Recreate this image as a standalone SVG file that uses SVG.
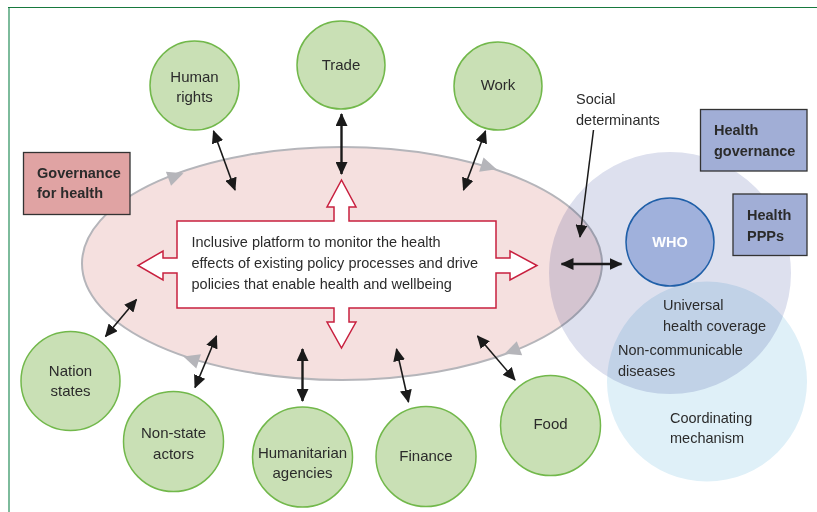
<svg xmlns="http://www.w3.org/2000/svg" width="817" height="512" viewBox="0 0 817 512">
<style>
text{font-family:"Liberation Sans",Arial,sans-serif;fill:#2b2b2b;}
.lbl{font-size:15px;text-anchor:middle;}
.bx{font-size:14.5px;}
.b{font-weight:bold;}
.gc{fill:#c9e0b5;stroke:#72b84b;stroke-width:1.5;}
.ar{stroke:#1a1a1a;fill:none;stroke-width:1.6;marker-start:url(#ah);marker-end:url(#ah);}
.thick{stroke-width:2.4;}
.mx{mix-blend-mode:multiply;}
</style>
<defs>
<marker id="ah" viewBox="0 0 13 12" markerWidth="13" markerHeight="12" refX="12" refY="6" orient="auto-start-reverse" markerUnits="userSpaceOnUse">
<path d="M0,0 L13,6 L0,12 Z" fill="#1a1a1a"/>
</marker>
<path id="gt" d="M8,0 L-8,-7.5 L-8,7.5 Z" fill="#b5b5ba"/>
</defs>
<rect width="817" height="512" fill="#ffffff"/>
<line x1="9" y1="8" x2="9" y2="512" stroke="#7dbb9c" stroke-width="2"/>
<line x1="8" y1="7.5" x2="817" y2="7.5" stroke="#17793e" stroke-width="1.2"/>

<g id="platform">
<ellipse cx="342" cy="263.5" rx="260" ry="116.5" fill="#f5e0df" stroke="#b5b5ba" stroke-width="2"/>
</g>
<g id="circles-right">
<circle class="mx" cx="670" cy="273" r="121" fill="#dde0ee"/>
<circle class="mx" cx="707" cy="381.5" r="100" fill="#dff0f8"/>
</g>
<g id="circulation">
<use href="#gt" transform="translate(176,176) rotate(-20)"/>
<use href="#gt" transform="translate(489,167) rotate(17)"/>
<use href="#gt" transform="translate(512,351) rotate(159)"/>
<use href="#gt" transform="translate(191,359) rotate(198)"/>
</g>

<g id="centre">
<path d="M177,221 L334,221 L334,207 L327,207 L341.5,180 L356,207 L349,207 L349,221 L496,221 L496,258 L510,258 L510,251 L537,265.5 L510,280 L510,273 L496,273 L496,308 L349,308 L349,322 L356,322 L341.5,348 L327,322 L334,322 L334,308 L177,308 L177,273 L163,273 L163,280 L138,265.5 L163,251 L163,258 L177,258 Z" fill="#ffffff" stroke="#c8203f" stroke-width="1.5"/>
<text class="bx" x="191.5" y="247">Inclusive platform to monitor the health</text>
<text class="bx" x="191.5" y="268">effects of existing policy processes and drive</text>
<text class="bx" x="191.5" y="289">policies that enable health and wellbeing</text>
</g>

<g id="governance">
<rect x="23.5" y="152.5" width="106.5" height="62" fill="#e0a3a3" stroke="#333" stroke-width="1.3"/>
<text class="bx b" x="37" y="178">Governance</text>
<text class="bx b" x="37" y="198">for health</text>
</g>

<g id="health-governance">
<rect x="700.5" y="109.5" width="106.5" height="61.5" fill="#a1aed6" stroke="#333" stroke-width="1.3"/>
<text class="bx b" x="714" y="135">Health</text>
<text class="bx b" x="714" y="156">governance</text>
</g>
<g id="health-ppps">
<rect x="733" y="194" width="74" height="61.5" fill="#a1aed6" stroke="#333" stroke-width="1.3"/>
<text class="bx b" x="747" y="220">Health</text>
<text class="bx b" x="747" y="240.5">PPPs</text>
</g>

<g id="who">
<circle cx="670" cy="242" r="44" fill="#a0b1dc" stroke="#1f5fa8" stroke-width="1.5"/>
<text class="bx b" x="670" y="247" text-anchor="middle" style="fill:#ffffff">WHO</text>
</g>

<g id="labels-right">
<text class="bx" x="576" y="104">Social</text>
<text class="bx" x="576" y="124.5">determinants</text>
<text class="bx" x="663" y="310">Universal</text>
<text class="bx" x="663" y="330.5">health coverage</text>
<text class="bx" x="618" y="355">Non-communicable</text>
<text class="bx" x="618" y="376">diseases</text>
<text class="bx" x="670" y="423">Coordinating</text>
<text class="bx" x="670" y="443">mechanism</text>
</g>

<g id="human-rights"><circle class="gc" cx="194.5" cy="85.5" r="44.5"/><text class="lbl" x="194.5" y="81.5">Human</text><text class="lbl" x="194.5" y="101.5">rights</text></g>
<g id="trade"><circle class="gc" cx="341" cy="65" r="44"/><text class="lbl" x="341" y="70">Trade</text></g>
<g id="work"><circle class="gc" cx="498" cy="86" r="44"/><text class="lbl" x="498" y="90">Work</text></g>
<g id="nation-states"><circle class="gc" cx="70.5" cy="381" r="49.5"/><text class="lbl" x="70.5" y="376">Nation</text><text class="lbl" x="70.5" y="396">states</text></g>
<g id="non-state-actors"><circle class="gc" cx="173.5" cy="441.5" r="50"/><text class="lbl" x="173.5" y="438">Non-state</text><text class="lbl" x="173.5" y="459">actors</text></g>
<g id="humanitarian-agencies"><circle class="gc" cx="302.5" cy="457" r="50"/><text class="lbl" x="302.5" y="457.5">Humanitarian</text><text class="lbl" x="302.5" y="477.5">agencies</text></g>
<g id="finance"><circle class="gc" cx="426" cy="456.5" r="50"/><text class="lbl" x="426" y="461">Finance</text></g>
<g id="food"><circle class="gc" cx="550.5" cy="425.5" r="50"/><text class="lbl" x="550.5" y="429">Food</text></g>

<g id="connectors">
<line class="ar" x1="213.5" y1="131" x2="235" y2="190"/>
<line class="ar thick" x1="341.5" y1="114" x2="341.5" y2="174"/>
<line class="ar" x1="485.5" y1="131" x2="463.5" y2="190"/>
<line x1="593.5" y1="130" x2="580" y2="237" stroke="#1a1a1a" stroke-width="1.5" marker-end="url(#ah)"/>
<line class="ar thick" x1="561.5" y1="264" x2="621.5" y2="264"/>
<line class="ar" x1="136.5" y1="299.5" x2="105.5" y2="336.5"/>
<line class="ar" x1="216.5" y1="336" x2="195" y2="387.5"/>
<line class="ar thick" x1="302.5" y1="349" x2="302.5" y2="401"/>
<line class="ar" x1="396.5" y1="349" x2="408.5" y2="402"/>
<line class="ar" x1="477.5" y1="336" x2="515" y2="380"/>
</g>
</svg>
